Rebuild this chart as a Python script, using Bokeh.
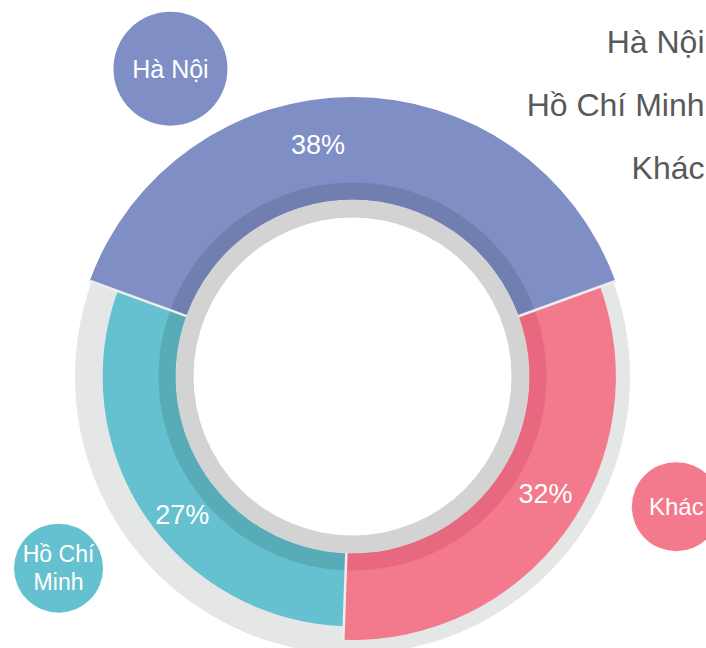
import math
from bokeh.plotting import figure
from bokeh.models import Range1d, ColumnDataSource
from bokeh.core.properties import value
from bokeh.embed import file_html
from bokeh.resources import INLINE

# ---------------- data (clockwise order from the top) ----------------
categories = ["Hà Nội", "Khác", "Hồ Chí Minh"]
percent_values = [38, 32, 27]
pct_labels = ["38%", "32%", "27%"]
arc_share = [38.9, 31.1, 30.0]          # angular share of each arc, as drawn
bubble_labels = ["Hà Nội", "Khác", "Hồ Chí\nMinh"]
legend_labels = ["Hà Nội", "Hồ Chí Minh", "Khác"]

# ---------------- styles / layout ----------------
colors = ["#7f8fc6", "#f27a8c", "#65c1cf"]
dark_colors = ["#717fb0", "#e8697f", "#58acb8"]
W, H = 706, 648
CX, CY = 352, H - 376
R_HOLE, R_IN, R_BAND, R_BACK = 159, 177, 194, 277.5
RADIAL_K = 2.7            # px of outer radius per percent
ARC_START = -70           # degrees clockwise from 12 o'clock
LABEL_START = -79
bubble_dist = [357.6, 349, 350.9]
bubble_angle = [-30.6, 111.9, 236.9]
bubble_radius = [57, 44.5, 44.5]
bubble_font = ["25px", "24px", "23px"]
FONT = "Liberation Sans"


def to_math(theta_cw_deg):
    return math.radians(90 - theta_cw_deg)


# arcs
total_share = sum(arc_share)
starts, ends, outers, bounds = [], [], [], []
cum = ARC_START
for s, v in zip(arc_share, percent_values):
    span = s / total_share * 360
    starts.append(to_math(cum + span))
    ends.append(to_math(cum))
    outers.append(R_IN + RADIAL_K * v)
    bounds.append(cum)
    cum += span

seg_src = ColumnDataSource(dict(
    x=[CX] * 3, y=[CY] * 3, start=starts, end=ends, outer=outers,
    color=colors, dark=dark_colors, cat=categories))

# label positions (pie of the percent values)
total_v = sum(percent_values)
lx, ly = [], []
cum = LABEL_START
for v, ro in zip(percent_values, outers):
    span = v / total_v * 360
    mid = to_math(cum + span / 2)
    r = (R_IN + ro) / 2 + 6
    lx.append(CX + r * math.cos(mid))
    ly.append(CY + r * math.sin(mid))
    cum += span

# gap lines at arc boundaries
gx0, gy0, gx1, gy1 = [], [], [], []
for i, b in enumerate(bounds):
    a = to_math(b)
    r_out = max(outers[i], outers[i - 1]) + 1
    gx0.append(CX + (R_IN - 0.5) * math.cos(a)); gy0.append(CY + (R_IN - 0.5) * math.sin(a))
    gx1.append(CX + r_out * math.cos(a)); gy1.append(CY + r_out * math.sin(a))

# bubbles
bx = [CX + d * math.sin(math.radians(t)) for d, t in zip(bubble_dist, bubble_angle)]
by = [CY + d * math.cos(math.radians(t)) for d, t in zip(bubble_dist, bubble_angle)]
bub_src = ColumnDataSource(dict(x=bx, y=by, r=bubble_radius, color=colors,
                                label=bubble_labels, fs=bubble_font))

p = figure(width=W, height=H, x_range=Range1d(0, W), y_range=Range1d(0, H),
           output_backend="svg", toolbar_location=None, min_border=0)
p.axis.visible = False
p.grid.visible = False
p.outline_line_color = None
p.background_fill_color = "white"
p.border_fill_color = "white"

p.annulus(x=CX, y=CY, inner_radius=R_IN, outer_radius=R_BACK,
          fill_color="#e5e6e6", line_color=None)
p.annulus(x=CX, y=CY, inner_radius=R_HOLE, outer_radius=R_IN,
          fill_color="#d3d3d3", line_color=None)
p.annular_wedge(x="x", y="y", inner_radius=R_IN, outer_radius="outer",
                start_angle="start", end_angle="end", fill_color="color",
                line_color=None, source=seg_src)
p.annular_wedge(x="x", y="y", inner_radius=R_IN, outer_radius=R_BAND,
                start_angle="start", end_angle="end", fill_color="dark",
                line_color=None, source=seg_src)
p.segment(x0=gx0, y0=gy0, x1=gx1, y1=gy1, line_color="#eceeee", line_width=2.5)

p.text(x=lx, y=ly, text=pct_labels, text_color="white",
       text_font=value(FONT), text_font_size="27px",
       text_align="center", text_baseline="middle")

p.circle(x="x", y="y", radius="r", fill_color="color", line_color=None, source=bub_src)
p.text(x="x", y="y", text="label", text_color="white",
       text_font=value(FONT), text_font_size="fs", text_line_height=1.05,
       text_align="center", text_baseline="middle", source=bub_src)

leg_y = [H - 41 - 63 * i for i in range(len(legend_labels))]
p.text(x=[W - 2] * len(legend_labels), y=leg_y, text=legend_labels,
       text_color="#595959", text_font=value(FONT), text_font_size="32px",
       text_align="right", text_baseline="middle")

open("out.html", "w").write(file_html(p, INLINE))
